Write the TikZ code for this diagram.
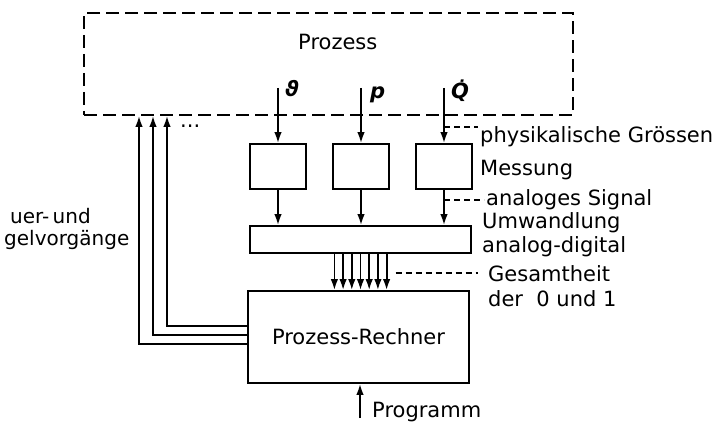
\documentclass[tikz,border=0pt]{standalone}
\usepackage{fontspec}
\setmainfont{DejaVu Sans}
\usetikzlibrary{arrows.meta, positioning, calc}

\begin{document}
\begin{tikzpicture}[
  x=1pt, y=-1pt,
  box/.style={rectangle, draw, line width=1.8pt, inner sep=0pt},
  mess/.style={box, minimum width=56pt, minimum height=45pt},
  arr/.style={-{Latex[length=11pt,width=7.5pt]}, line width=1.8pt},
  lbl/.style={anchor=base west, inner sep=0pt, font=\fontsize{21}{24}\selectfont},
  sym/.style={lbl, font=\fontsize{21}{24}\selectfont\bfseries\itshape},
  lead/.style={dash pattern=on 6pt off 4pt, line width=1.5pt}
]
\useasboundingbox (0,0) rectangle (718,425);

% Prozess (gestrichelt)
\node[box, dash pattern=on 13pt off 6pt, minimum width=489pt, minimum height=102pt] (prozess) at (328.5,64) {};
\node[lbl] (prozesstxt) at (298,50) {Prozess};

% Messglieder
\node[mess] (m1) at (278,166.5) {};
\node[mess] (m2) at (361,166.5) {};
\node[mess] (m3) at (444,166.5) {};

% physikalische Groessen
\coordinate (e1) at (278,88);
\coordinate (e2) at (361,88);
\coordinate (e3) at (444,88);
\draw[arr] (e1) -- (m1);
\draw[arr] (e2) -- (m2);
\draw[arr] (e3) -- (m3);
\node[sym] (theta) at (285,97) {ϑ};
\node[sym] (druck) at (370,99) {p};
\node[sym] (waerme) at (451,99) {Q̇};

% Umwandlung analog-digital
\node[box, minimum width=221pt, minimum height=27pt] (ad) at (360.5,239.5) {};
\draw[arr] (m1) -- (m1 |- ad.north);
\draw[arr] (m2) -- (m2 |- ad.north);
\draw[arr] (m3) -- (m3 |- ad.north);

% Prozess-Rechner
\node[box, minimum width=221pt, minimum height=92pt, font=\fontsize{21}{24}\selectfont] (rechner) at (358.5,337) {Prozess-Rechner};
\foreach \i in {-3,...,3}
  \draw[arr] ([xshift=\i*8.7pt]ad.south) -- ([xshift=\i*8.7pt]ad.south |- rechner.north);

% Programm
\coordinate (prog) at (360,418);
\draw[arr] (prog) -- (prog |- rechner.south);
\node[lbl] (progtxt) at (372,417) {Programm};

% Steuer- und Regelvorgaenge
\foreach \y/\x in {326/167, 335/153, 344/139}
  \draw[arr] (rechner.west |- 0,\y) -| (prozess.south -| \x,0);
\node[lbl] (dots) at (180,128) {...};
\node[lbl, font=\fontsize{20}{24}\selectfont] (steuer) at (10,223) {uer-\,und};
\node[lbl, font=\fontsize{20}{24}\selectfont] (regel) at (4,245) {gelvorgänge};

% Beschriftung rechts
\node[lbl] (phys) at (480,143) {physikalische Grössen};
\draw[lead] (m3.north |- phys.north west) -- ([xshift=-2pt]phys.north west);
\node[lbl] (messung) at (480,176) {Messung};
\node[lbl] (analog) at (486,206) {analoges Signal};
\draw[lead] (m3.south |- analog.west) -- ([xshift=-2pt]analog.west);
\node[lbl] (umw) at (482,229) {Umwandlung};
\node[lbl] (adtxt) at (482,252) {analog-digital};
\node[lbl] (gesamt) at (488,281) {Gesamtheit};
\node[lbl] (bits) at (488,306) {der\ \ 0 und 1};
\draw[lead] ([xshift=35pt]ad.south |- gesamt.west) -- ([xshift=-10pt]gesamt.west);

\end{tikzpicture}
\end{document}
